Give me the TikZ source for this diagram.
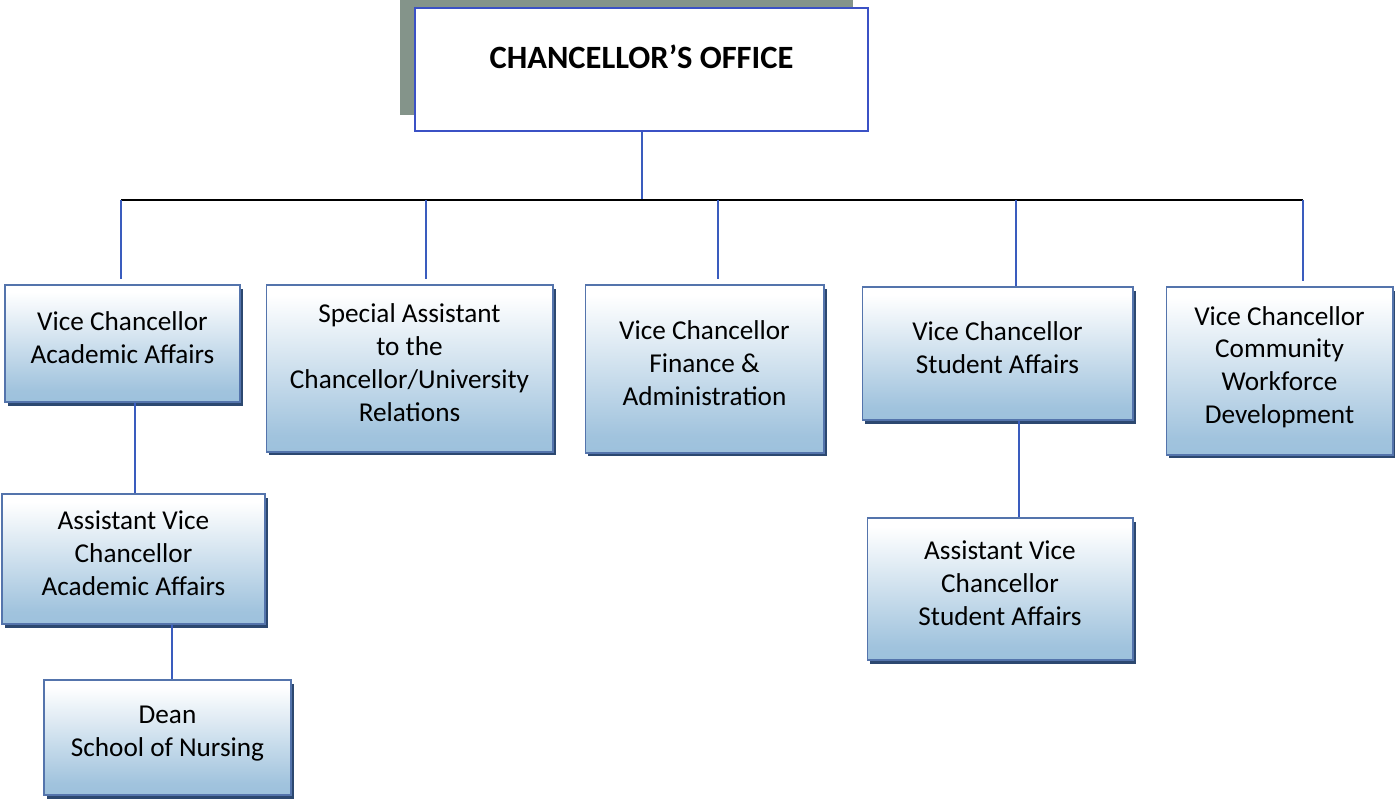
\documentclass[tikz,border=0pt]{standalone}
\usepackage{fontspec}
\setmainfont{Carlito}
\usetikzlibrary{calc}
\usetikzlibrary{shadows}
\definecolor{boxblue}{RGB}{140,182,214}
\definecolor{boxline}{RGB}{84,116,172}
\definecolor{shadeblue}{RGB}{44,72,112}
\definecolor{linkblue}{RGB}{58,92,190}
\definecolor{greygreen}{RGB}{132,148,138}
\pgfdeclareverticalshading{unitfade}{100bp}{color(0bp)=(boxblue); color(30bp)=(boxblue!82!white); color(72bp)=(white); color(100bp)=(white)}
\tikzset{
  unit/.style={draw=boxline, line width=0.6pt, shading=unitfade, align=center,
    font=\fontsize{15.5}{18.7}\selectfont, text depth=7pt,
    general shadow={fill=shadeblue, shadow xshift=1.5pt, shadow yshift=-2pt}},
  topunit/.style={draw=boxline!70!blue, line width=0.8pt, fill=white,
    general shadow={fill=greygreen, shadow xshift=-0.3cm, shadow yshift=0.32cm}},
  titletext/.style={font=\fontsize{18.5}{22}\selectfont\bfseries},
  link/.style={draw=linkblue, line width=1.1pt},
  bar/.style={draw=black, line width=1.2pt}
}
\begin{document}
\begin{tikzpicture}[x=0.02cm,y=-0.02cm]
    \useasboundingbox[fill=white] (0,0) rectangle (1395,800);
    % top office
    \node[topunit, minimum width=9.06cm, minimum height=2.46cm] (CO) at (641.5,69.5) {};
    \node[titletext] (COtext) at ([yshift=0.25cm]CO.center) {CHANCELLOR’S OFFICE};
    % first tier
    \node[unit, minimum width=4.70cm, minimum height=2.34cm] (VCA) at (122.5,343.5) {Vice Chancellor\\Academic Affairs};
    \node[unit, minimum width=5.74cm, minimum height=3.34cm] (SPA) at (409.5,368.5) {Special Assistant\\to the\\Chancellor/University\\Relations};
    \node[unit, minimum width=4.78cm, minimum height=3.36cm] (VCF) at (704.5,369) {Vice Chancellor\\Finance \&\\Administration};
    \node[unit, minimum width=5.42cm, minimum height=2.66cm] (VCS) at (997.5,353.5) {Vice Chancellor\\Student Affairs};
    \node[unit, minimum width=4.54cm, minimum height=3.36cm] (VCW) at (1279.5,371) {Vice Chancellor\\Community\\Workforce\\Development};
    % lower tiers
    \node[unit, minimum width=5.26cm, minimum height=2.60cm] (AVA) at (133.5,559) {Assistant Vice\\Chancellor\\Academic Affairs};
    \node[unit, minimum width=4.94cm, minimum height=2.30cm] (DSN) at (167.5,737.5) {Dean\\School of Nursing};
    \node[unit, minimum width=5.32cm, minimum height=2.84cm] (AVS) at (1000,589) {Assistant Vice\\Chancellor\\Student Affairs};
    % connectors
    \coordinate (t0) at (642,200);
    \coordinate (t1) at (121,200);
    \coordinate (t2) at (426,200);
    \coordinate (t3) at (718,200);
    \coordinate (t4) at (1016,200);
    \coordinate (t5) at (1303,200);
    \draw[link] (t0 |- CO.south) -- (t0);
    \draw[bar] (t1) -- (t5);
    \draw[link, shorten >=3pt] (t1) -- (t1 |- VCA.north);
    \draw[link, shorten >=3pt] (t2) -- (t2 |- SPA.north);
    \draw[link, shorten >=3pt] (t3) -- (t3 |- VCF.north);
    \draw[link] (t4) -- (t4 |- VCS.north);
    \draw[link, shorten >=3pt] (t5) -- (t5 |- VCW.north);
    \draw[link] ([xshift=0.03cm]VCA.south -| AVA.north) -- ([xshift=0.03cm]AVA.north);
    \draw[link] ([xshift=0.09cm]AVA.south -| DSN.north) -- ([xshift=0.09cm]DSN.north);
    \draw[link] ([xshift=0.43cm]VCS.south) -- ([xshift=0.43cm]VCS.south |- AVS.north);
\end{tikzpicture}
\end{document}
